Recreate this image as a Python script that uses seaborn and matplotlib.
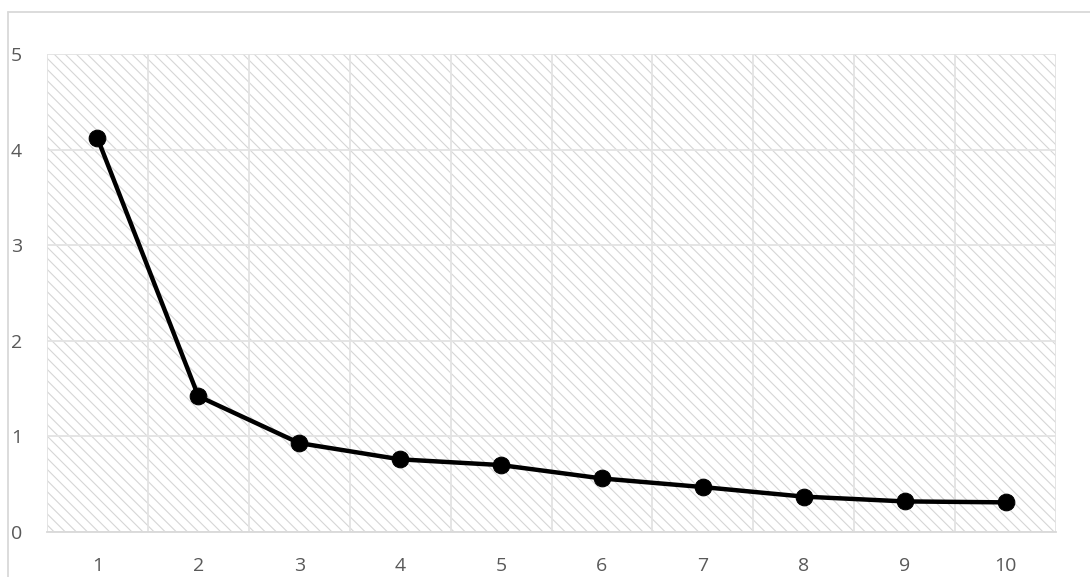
import numpy as np
import pandas as pd
import matplotlib
matplotlib.use('Agg')
import matplotlib.pyplot as plt
import seaborn as sns
from matplotlib.patches import Rectangle
from matplotlib.lines import Line2D

# --- veri ---
components = [1, 2, 3, 4, 5, 6, 7, 8, 9, 10]
eigenvalues = [4.12, 1.42, 0.93, 0.76, 0.70, 0.56, 0.47, 0.37, 0.32, 0.31]
y_ticks = [0, 1, 2, 3, 4, 5]

df = pd.DataFrame({'component': components, 'value': eigenvalues})

sns.set_style('white')
plt.rcParams['font.family'] = ['Open Sans', 'DejaVu Sans']
plt.rcParams['hatch.linewidth'] = 0.8
plt.rcParams['hatch.color'] = '#d6d6d6'

grid_c = '#e3e3e3'
text_c = '#595959'

fig = plt.figure(figsize=(10.9, 5.77), dpi=100)
ax = fig.add_axes([47 / 1090, 1 - 532 / 577, (1056 - 47) / 1090, (532 - 54) / 577])

# tarama deseni (plot area)
ax.add_patch(Rectangle((0, 0), 1, 1, transform=ax.transAxes, facecolor='none',
                       edgecolor='#d6d6d6', hatch='\\\\\\', linewidth=0, zorder=0))

sns.lineplot(data=df, x='component', y='value', ax=ax, color='black', linewidth=3.2,
             marker='o', markersize=12, markeredgecolor='black', zorder=5)

ax.set_xlim(0.5, 10.5)
ax.set_ylim(0, 5)
ax.set_xticks(components)
ax.set_xticks(np.arange(0.5, 11, 1), minor=True)
ax.set_yticks(y_ticks)
ax.grid(False)
ax.grid(True, which='minor', axis='x', color=grid_c, linewidth=1.3, zorder=1)
ax.grid(True, which='major', axis='y', color=grid_c, linewidth=1.3, zorder=1)
ax.set_axisbelow(True)

for s in ['top', 'right', 'left']:
    ax.spines[s].set_visible(False)
ax.spines['bottom'].set_color('#d9d9d9')
ax.spines['bottom'].set_linewidth(1.3)

ax.tick_params(axis='both', which='both', length=0, labelsize=14, labelcolor=text_c)
ax.tick_params(axis='y', pad=18)
ax.tick_params(axis='x', pad=18)
ax.set_xlabel('')
ax.set_ylabel('')

# dış çerçeve
fig.add_artist(Line2D([8 / 1090, 8 / 1090], [0, 1 - 12 / 577], color='#d9d9d9', linewidth=1.3))
fig.add_artist(Line2D([8 / 1090, 1], [1 - 12 / 577, 1 - 12 / 577], color='#d9d9d9', linewidth=1.3))

fig.savefig('out.png', dpi=100)
